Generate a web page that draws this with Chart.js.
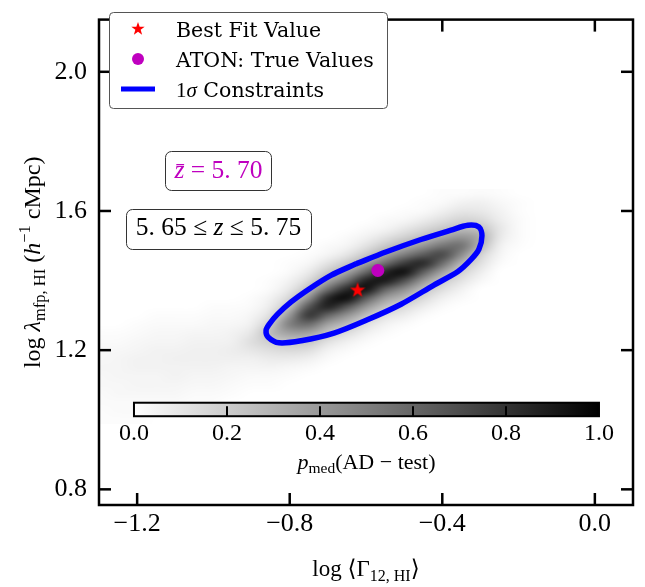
<!DOCTYPE html>
<html>
<head>
<meta charset="utf-8">
<script src="https://cdn.jsdelivr.net/npm/chart.js@4.4.1/dist/chart.umd.min.js"></script>
<style>
  html, body { margin: 0; padding: 0; background: #fff; }
  canvas { display: block; }
</style>
</head>
<body>
<canvas id="c" width="645" height="587"></canvas>
<script>
// ── Data ────────────────────────────────────────────────────────────────────
const xTicks = [-1.2, -0.8, -0.4, 0.0];
const yTicks = [0.8, 1.2, 1.6, 2.0];
const cbarTicks = [0.0, 0.2, 0.4, 0.6, 0.8, 1.0];

// p_med grid: column centres, row centres (bottom -> top)
const heatX = [-1.30, -1.25, -1.20, -1.15, -1.10, -1.05, -1.00, -0.95, -0.90, -0.85, -0.80, -0.75,
               -0.70, -0.65, -0.60, -0.55, -0.50, -0.45, -0.40, -0.35, -0.30, -0.25, -0.20, -0.15];
const heatY = [1.000, 1.025, 1.050, 1.075, 1.100, 1.125, 1.150, 1.175, 1.200, 1.225, 1.250, 1.275, 1.300, 1.325,
               1.350, 1.375, 1.400, 1.425, 1.450, 1.475, 1.500, 1.525, 1.550, 1.575, 1.600, 1.625, 1.650];
// first non-zero row of each column, then that column's values upward
const heatStart = [0, 0, 0, 1, 1, 2, 2, 3, 4, 4, 5, 6, 7, 8, 9, 10, 11, 12, 13, 14, 16, 18, 20, 0];
const heatCols = [
  [.01, .01, .02, .02, .03, .03, .04, .03, .03, .02, .01],
  [.01, .02, .02, .03, .03, .04, .04, .04, .03, .02, .01],
  [.01, .02, .02, .03, .04, .04, .05, .05, .04, .03, .02, .01],
  [.01, .02, .03, .04, .04, .05, .05, .05, .04, .03, .02, .01],
  [.01, .02, .03, .04, .05, .05, .06, .05, .04, .03, .02, .01],
  [.01, .02, .03, .04, .05, .06, .06, .05, .04, .02, .01],
  [.01, .02, .03, .04, .05, .06, .06, .05, .04, .03, .02, .01],
  [.01, .02, .03, .04, .06, .07, .06, .05, .03, .02, .01],
  [.01, .02, .04, .06, .10, .13, .10, .06, .04, .02, .01],
  [.01, .02, .045, .08, .13, .20, .27, .21, .13, .08, .05, .02, .01],
  [.01, .03, .08, .15, .23, .38, .51, .41, .26, .16, .09, .05, .02, .01],
  [.02, .06, .13, .23, .37, .59, .80, .67, .43, .26, .15, .08, .03, .01],
  [.02, .05, .12, .23, .37, .60, .88, .86, .57, .35, .21, .11, .04, .02],
  [.02, .06, .14, .26, .42, .67, .96, .85, .56, .35, .21, .10, .04, .02],
  [.02, .06, .13, .25, .41, .65, .94, .88, .59, .36, .21, .11, .05, .02],
  [.02, .05, .12, .24, .39, .62, .91, .86, .56, .35, .21, .11, .04, .02],
  [.02, .07, .15, .28, .44, .70, .95, .77, .50, .31, .18, .09, .03, .01],
  [.02, .07, .15, .25, .41, .64, .85, .64, .41, .25, .15, .07, .02, .01],
  [.02, .06, .13, .22, .37, .58, .72, .54, .34, .21, .12, .06, .02, .01],
  [.02, .05, .11, .18, .29, .46, .56, .42, .26, .17, .10, .05, .01],
  [.03, .07, .12, .18, .29, .33, .24, .15, .09, .06, .02],
  [.02, .04, .06, .09, .10, .07, .05, .03, .01],
  [.01, .02, .02, .02, .01, .01],
  []
];

// 1-sigma contour, traced clockwise from the top edge
const contourX = [-0.626, -0.548, -0.456, -0.377, -0.333, -0.304, -0.296, -0.304, -0.325, -0.359, -0.422, -0.508,
                  -0.595, -0.684, -0.770, -0.828, -0.857, -0.862, -0.854, -0.833, -0.797, -0.749, -0.692, -0.626];
const contourY = [1.448, 1.482, 1.518, 1.545, 1.559, 1.554, 1.529, 1.490, 1.460, 1.426, 1.387, 1.332,
                  1.288, 1.249, 1.227, 1.221, 1.238, 1.257, 1.274, 1.302, 1.338, 1.376, 1.415, 1.448];

const bestFit = [-0.622, 1.372];
const trueVal = [-0.569, 1.429];

const legendLabels = ['Best Fit Value', 'ATON: True Values', 'Constraints'];

// ── Fonts / helpers ─────────────────────────────────────────────────────────
const MATH = "'Liberation Serif', 'DejaVu Serif', serif";
const TEXT = "'DejaVu Serif', serif";
const run = (t, size, style, dy, fam) => ({ t, font: `${style || ''} ${size}px ${fam || MATH}`, dy: dy || 0 });

function drawRich(ctx, runs, x, y, align, color) {
  let total = 0;
  const ws = runs.map(r => { ctx.font = r.font; const w = ctx.measureText(r.t).width; total += w; return w; });
  let cx = align === 'center' ? x - total / 2 : x;
  ctx.fillStyle = color || '#000';
  ctx.textAlign = 'left';
  ctx.textBaseline = 'alphabetic';
  runs.forEach((r, i) => { ctx.font = r.font; ctx.fillText(r.t, cx, y + r.dy); cx += ws[i]; });
}

function makeStar(size, color) {
  const c = document.createElement('canvas');
  c.width = c.height = size;
  const g = c.getContext('2d');
  const R = size / 2, r = R * 0.4;
  g.beginPath();
  for (let k = 0; k < 10; k++) {
    const a = -Math.PI / 2 + k * Math.PI / 5;
    const rr = k % 2 ? r : R;
    g.lineTo(R + rr * Math.cos(a), R + rr * Math.sin(a));
  }
  g.closePath();
  g.fillStyle = color;
  g.fill();
  return c;
}

function line(ctx, x1, y1, x2, y2) {
  ctx.beginPath(); ctx.moveTo(x1, y1); ctx.lineTo(x2, y2); ctx.stroke();
}

function roundBox(ctx, x, y, w, h, r, stroke) {
  ctx.beginPath();
  ctx.roundRect(x, y, w, h, r);
  ctx.fillStyle = '#fff';
  ctx.fill();
  ctx.lineWidth = 1;
  ctx.strokeStyle = stroke;
  ctx.stroke();
}

const fmtTick = v => (v < 0 ? '\u2212' : '') + Math.abs(v).toFixed(1);

// ── Heatmap (drawn under the datasets, placed by the chart's scales) ───────
const heatmapPlugin = {
  id: 'heatmap',
  beforeDatasetsDraw(chart) {
    const nx = heatX.length, ny = heatY.length;
    const off = document.createElement('canvas');
    off.width = nx; off.height = ny;
    const g = off.getContext('2d');
    const img = g.createImageData(nx, ny);
    for (let i = 0; i < nx; i++) {
      for (let j = 0; j < ny; j++) {
        const k = j - heatStart[i];
        const v = k >= 0 && k < heatCols[i].length ? heatCols[i][k] : 0;
        const c = Math.round(255 * (1 - v));
        const p = ((ny - 1 - j) * nx + i) * 4;
        img.data[p] = img.data[p + 1] = img.data[p + 2] = c;
        img.data[p + 3] = 255;
      }
    }
    g.putImageData(img, 0, 0);
    const xs = chart.scales.x, ys = chart.scales.y;
    const dx = heatX[1] - heatX[0], dy = heatY[1] - heatY[0];
    const x0 = xs.getPixelForValue(heatX[0] - dx / 2), x1 = xs.getPixelForValue(heatX[nx - 1] + dx / 2);
    const y0 = ys.getPixelForValue(heatY[ny - 1] + dy / 2), y1 = ys.getPixelForValue(heatY[0] - dy / 2);
    const ctx = chart.ctx, a = chart.chartArea;
    ctx.save();
    ctx.beginPath(); ctx.rect(a.left, a.top, a.right - a.left, a.bottom - a.top); ctx.clip();
    ctx.imageSmoothingEnabled = true;
    ctx.imageSmoothingQuality = 'high';
    ctx.drawImage(off, x0, y0, x1 - x0, y1 - y0);
    ctx.restore();
  }
};

// ── Frame, ticks, colorbar, legend, boxes, axis labels ─────────────────────
const decorPlugin = {
  id: 'decor',
  afterDraw(chart) {
    const ctx = chart.ctx, a = chart.chartArea;
    const xs = chart.scales.x, ys = chart.scales.y;
    const W = a.right - a.left, H = a.bottom - a.top;
    ctx.save();

    // colorbar
    const cbL = a.left + 0.0655 * W, cbR = a.left + 0.9363 * W;
    const cbT = a.top + 0.7893 * H, cbB = a.top + 0.8171 * H;
    const grad = ctx.createLinearGradient(cbL, 0, cbR, 0);
    grad.addColorStop(0, '#ffffff');
    grad.addColorStop(1, '#000000');
    ctx.fillStyle = grad;
    ctx.fillRect(cbL, cbT, cbR - cbL, cbB - cbT);
    ctx.strokeStyle = '#000';
    ctx.lineWidth = 2;
    ctx.strokeRect(cbL, cbT, cbR - cbL, cbB - cbT);
    ctx.font = `24px ${MATH}`;
    ctx.fillStyle = '#000';
    ctx.textAlign = 'center';
    ctx.textBaseline = 'alphabetic';
    cbarTicks.forEach(v => {
      const p = cbL + v * (cbR - cbL);
      if (v > 0 && v < 1) line(ctx, p, cbB, p, cbB - 10);
      ctx.fillText(v.toFixed(1), p, cbB + 24);
    });
    drawRich(ctx, [run('p', 22, 'italic'), run('med', 15.5, '', 4), run('(AD \u2212 test)', 22)],
      (cbL + cbR) / 2, cbB + 53, 'center');

    // frame + inward ticks on all four sides
    ctx.strokeStyle = '#000';
    ctx.lineWidth = 2.5;
    ctx.strokeRect(a.left, a.top, W, H);
    xTicks.forEach(v => {
      const p = xs.getPixelForValue(v);
      line(ctx, p, a.bottom, p, a.bottom - 12);
      line(ctx, p, a.top, p, a.top + 12);
    });
    yTicks.forEach(v => {
      const p = ys.getPixelForValue(v);
      line(ctx, a.left, p, a.left + 12, p);
      line(ctx, a.right, p, a.right - 12, p);
    });

    // legend
    roundBox(ctx, 109.5, 12.5, 278, 96, 4, '#555');
    const star = makeStar(14, '#ff0000');
    ctx.drawImage(star, 138 - 7, 29 - 7);
    ctx.fillStyle = '#bf00bf';
    ctx.beginPath(); ctx.arc(138, 59, 6, 0, Math.PI * 2); ctx.fill();
    ctx.strokeStyle = '#0000ff';
    ctx.lineWidth = 5;
    line(ctx, 121, 89, 155, 89);
    drawRich(ctx, [run(legendLabels[0], 20.5, '', 0, TEXT)], 176, 36.5, 'left');
    drawRich(ctx, [run(legendLabels[1], 20.5, '', 0, TEXT)], 176, 66.5, 'left');
    drawRich(ctx, [run('1', 21), run('\u03c3', 21, 'italic'), run(' ' + legendLabels[2], 20.5, '', 0, TEXT)], 176, 96.5, 'left');

    // redshift boxes
    roundBox(ctx, 165.5, 151.5, 106, 39, 6, '#333');
    drawRich(ctx, [run('z\u0304', 25.5, 'italic'), run(' = 5. 70', 25.5)], 218.5, 178, 'center', '#bf00bf');
    roundBox(ctx, 126.5, 209.5, 185, 40, 6, '#333');
    drawRich(ctx, [run('5. 65 \u2264 ', 25.5), run('z', 25.5, 'italic'), run(' \u2264 5. 75', 25.5)], 218.5, 235, 'center');

    // axis labels
    drawRich(ctx, [run('log \u27e8\u0393', 23), run('12, HI', 16, '', 5), run('\u27e9', 23)],
      (a.left + a.right) / 2, 576, 'center');
    ctx.translate(40, (a.top + a.bottom) / 2);
    ctx.rotate(-Math.PI / 2);
    drawRich(ctx, [run('log ', 24), run('\u03bb', 24, 'italic'), run('mfp, HI', 16.5, '', 5), run(' (', 24),
      run('h', 24, 'italic'), run('\u22121', 16.5, '', -10), run(' cMpc)', 24)], 0, 0, 'center');
    ctx.restore();
  }
};

// ── Chart ───────────────────────────────────────────────────────────────────
const starImg = makeStar(16, '#ff0000');

new Chart(document.getElementById('c').getContext('2d'), {
  type: 'scatter',
  data: {
    datasets: [
      {
        label: '1σ Constraints',
        data: contourX.map((x, i) => ({ x, y: contourY[i] })),
        showLine: true,
        borderColor: '#0000ff',
        borderWidth: 5.5,
        pointRadius: 0,
        tension: 0.3,
        fill: false,
        order: 3
      },
      {
        label: legendLabels[1],
        data: [{ x: trueVal[0], y: trueVal[1] }],
        pointStyle: 'circle',
        pointRadius: 6.5,
        backgroundColor: '#bf00bf',
        borderWidth: 0,
        order: 2
      },
      {
        label: legendLabels[0],
        data: [{ x: bestFit[0], y: bestFit[1] }],
        pointStyle: starImg,
        pointRadius: 8,
        order: 1
      }
    ]
  },
  options: {
    responsive: false,
    animation: false,
    devicePixelRatio: 1,
    layout: { padding: { top: 2, right: 12, left: 0, bottom: 0 } },
    plugins: { legend: { display: false }, tooltip: { enabled: false } },
    scales: {
      x: {
        type: 'linear',
        min: -1.3,
        max: 0.1,
        afterBuildTicks: s => { s.ticks = xTicks.map(value => ({ value })); },
        afterFit: s => { s.height = 82; },
        grid: { display: false },
        border: { display: false },
        ticks: { color: '#000', padding: -4, maxRotation: 0, font: { family: MATH, size: 26 }, callback: fmtTick }
      },
      y: {
        type: 'linear',
        min: 0.755,
        max: 2.15,
        afterBuildTicks: s => { s.ticks = yTicks.map(value => ({ value })); },
        afterFit: s => { s.width = 99; },
        grid: { display: false },
        border: { display: false },
        ticks: { color: '#000', padding: 4, font: { family: MATH, size: 26 }, callback: fmtTick }
      }
    }
  },
  plugins: [heatmapPlugin, decorPlugin]
});
</script>
</body>
</html>
